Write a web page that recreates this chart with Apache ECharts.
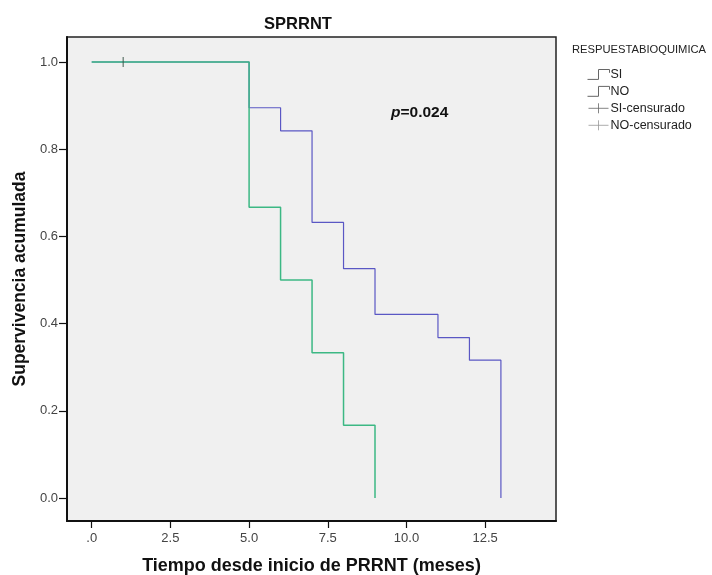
<!DOCTYPE html>
<html><head><meta charset="utf-8">
<script src="https://cdn.jsdelivr.net/npm/echarts@6/dist/echarts.min.js"></script>
<style>html,body{margin:0;padding:0;background:#fff}#c{width:712px;height:575px}</style>
</head><body><div id="c"></div>
<script>
const siTimes = [0, 5, 6, 7, 8, 9];
const siSurv = [1.0, 0.667, 0.5, 0.333, 0.167, 0.0];
const noTimes = [0, 5, 6, 7, 8, 9, 11, 12, 13];
const noSurv = [1.0, 0.895, 0.842, 0.632, 0.526, 0.421, 0.368, 0.316, 0.0];
const siCensorTimes = [1];
const siCensorSurv = [1.0];
const xTicks = [0, 2.5, 5, 7.5, 10, 12.5];
const xTickLabels = ['.0', '2.5', '5.0', '7.5', '10.0', '12.5'];
const yTicks = [0, 0.2, 0.4, 0.6, 0.8, 1.0];
const yTickLabels = ['0.0', '0.2', '0.4', '0.6', '0.8', '1.0'];

const toPairs = (xs, ys) => xs.map((x, i) => [x, ys[i]]);
const font = 'Liberation Sans, Arial, sans-serif';
const stepIcon = 'path://M0,10 L10,10 L10,1 L20,1 L20,4';
const censorIcon = 'path://M0,5 L20,5 M10,0 L10,10';
const chart = echarts.init(document.getElementById('c'));
chart.setOption({
  animation: false,
  textStyle: { fontFamily: font },
  title: { text: 'SPRRNT', left: 293, textAlign: 'center', top: 11,
    textStyle: { fontSize: 16.5, fontWeight: 'bold', color: '#111', fontFamily: font } },
  grid: { left: 67, top: 37, right: 156, bottom: 54, show: true, outerBoundsMode: 'none', containLabel: false,
    backgroundColor: '#f0f0f0', borderColor: '#222', borderWidth: 1.5 },
  legend: {
    orient: 'vertical', left: 585, top: 67, padding: 0, itemGap: 2, itemWidth: 22, itemHeight: 10,
    textStyle: { fontSize: 12.5, color: '#222', fontFamily: font, padding: [0,0,0,-4] },
    data: [
      { name: 'SI', icon: stepIcon, itemStyle: { color: 'none', borderColor: '#666', borderWidth: 1 } },
      { name: 'NO', icon: stepIcon, itemStyle: { color: 'none', borderColor: '#666', borderWidth: 1 } },
      { name: 'SI-censurado', icon: censorIcon, itemStyle: { color: 'none', borderColor: '#666', borderWidth: 1 } },
      { name: 'NO-censurado', icon: censorIcon, itemStyle: { color: 'none', borderColor: '#999', borderWidth: 1 } }
    ]
  },
  graphic: [
    { type: 'text', left: 572, top: 44, style: { text: 'RESPUESTABIOQUIMICA', fontSize: 11.2, fill: '#222', fontFamily: font } },
    { type: 'text', left: 391, top: 105, style: {
      text: '{i|p}{b|=0.024}', rich: {
        i: { fontStyle: 'italic', fontWeight: 'bold', fontSize: 15.5, fill: '#111', fontFamily: font },
        b: { fontWeight: 'bold', fontSize: 15.5, fill: '#111', fontFamily: font } } } }
  ],
  xAxis: {
    type: 'value', min: -0.785, max: 14.75,
    name: 'Tiempo desde inicio de PRRNT (meses)', nameLocation: 'middle', nameGap: 36,
    nameTextStyle: { fontSize: 18, fontWeight: 'bold', color: '#111', fontFamily: font },
    axisLine: { show: true, onZero: false, lineStyle: { color: '#111', width: 2 } },
    axisTick: { show: true, length: 7, customValues: xTicks, lineStyle: { color: '#111', width: 1.2 } },
    axisLabel: { customValues: xTicks, fontSize: 13, color: '#444', margin: 11,
      formatter: v => xTickLabels[xTicks.indexOf(v)] ?? '' },
    splitLine: { show: false }
  },
  yAxis: {
    type: 'value', min: -0.0528, max: 1.0573,
    name: 'Supervivencia acumulada', nameLocation: 'middle', nameGap: 29,
    nameTextStyle: { fontSize: 17.5, fontWeight: 'bold', color: '#111', fontFamily: font },
    axisLine: { show: true, onZero: false, lineStyle: { color: '#111', width: 2 } },
    axisTick: { show: true, length: 8, customValues: yTicks, lineStyle: { color: '#111', width: 1.2 } },
    axisLabel: { customValues: yTicks, fontSize: 13, color: '#444', margin: 9,
      formatter: v => yTickLabels[yTicks.findIndex(t => Math.abs(t - v) < 1e-9)] ?? '' },
    splitLine: { show: false }
  },
  series: [
    { name: 'NO', type: 'line', step: 'end', data: toPairs(noTimes, noSurv), symbol: 'none',
      itemStyle: { color: '#666' }, lineStyle: { color: '#5a57c4', width: 1.2 }, z: 2 },
    { name: 'SI', type: 'line', step: 'end', data: toPairs(siTimes, siSurv), symbol: 'none',
      itemStyle: { color: '#666' }, lineStyle: { color: '#3cb884', width: 1.5 }, z: 3 },
    { name: 'SI-censurado', type: 'scatter', data: toPairs(siCensorTimes, siCensorSurv),
      symbol: 'rect', symbolSize: [1.2, 10], itemStyle: { color: '#3a5548' }, z: 4 },
    { name: 'NO-censurado', type: 'scatter', data: [], symbol: 'rect',
      itemStyle: { color: '#999' } }
  ]
});
</script></body></html>
